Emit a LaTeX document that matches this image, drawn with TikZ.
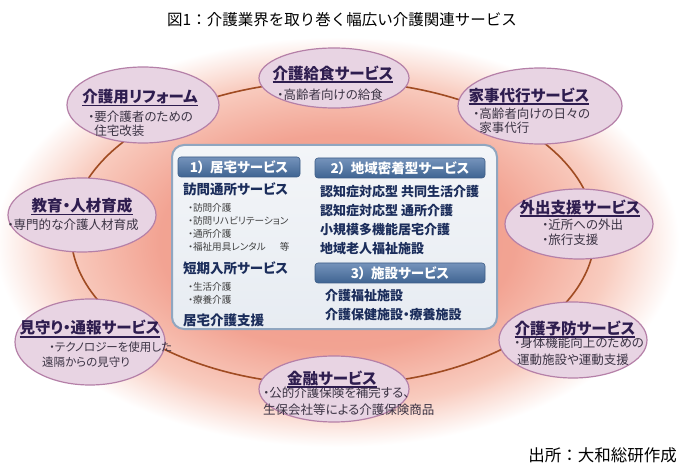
\documentclass[tikz,border=0pt]{standalone}
\usepackage{fontspec}
\setmainfont{Noto Sans CJK JP}[RawFeature=+palt]
\newfontfamily\plainjp{Noto Sans CJK JP}
\usetikzlibrary{shapes.geometric}
\definecolor{ttlc}{HTML}{2E1D4F}
\definecolor{bodyc}{HTML}{3B3344}
\definecolor{navyc}{HTML}{1B2D5B}
\definecolor{grayc}{HTML}{404040}
\definecolor{bubfill}{HTML}{E8D4E3}
\definecolor{bubline}{HTML}{B580A8}
\definecolor{ringc}{HTML}{A04B22}
\definecolor{boxfillA}{HTML}{F3F5F8}
\definecolor{boxfillB}{HTML}{E7ECF2}
\definecolor{boxline}{HTML}{90A6C0}
\definecolor{barA}{HTML}{7593BB}
\definecolor{barB}{HTML}{3F6492}
\definecolor{barline}{HTML}{3D5D86}
\pgfdeclareradialshading{bgrad}{\pgfpoint{0bp}{0bp}}{rgb(0bp)=(0.94,0.60,0.54); rgb(13bp)=(0.95,0.64,0.575); rgb(20bp)=(0.975,0.80,0.75); rgb(25bp)=(1,1,1); rgb(50bp)=(1,1,1)}
\begin{document}
\begin{tikzpicture}[x=1pt,y=-1pt,
  bubble/.style={ellipse, draw=bubline, fill=bubfill, line width=1.2pt, inner sep=0pt},
  bubtitle/.style={font=\fontsize{15.5}{17}\selectfont\bfseries, text=ttlc, inner sep=0pt},
  bubbody/.style={font=\fontsize{12.5}{14}\selectfont, text=bodyc, inner sep=0pt, align=left},
  ulline/.style={draw=ttlc, line width=1.1pt},
  ringline/.style={draw=ringc, line width=1.6pt},
  centerbox/.style={draw=boxline, line width=2pt, rounded corners=12pt, top color=boxfillA, bottom color=boxfillB, inner sep=0pt},
  hbar/.style={draw=barline, line width=0.6pt, rounded corners=3pt, top color=barA, bottom color=barB, inner sep=0pt, text=white, font=\fontsize{13.5}{15}\selectfont\bfseries},
  itemtext/.style={font=\fontsize{13.5}{19}\selectfont\bfseries, text=navyc, inner sep=0pt, align=left, anchor=west},
  subtext/.style={font=\fontsize{9.6}{13}\selectfont, text=grayc, inner sep=0pt, align=left, anchor=west}
]
\useasboundingbox (0,0) rectangle (683,473);
\fill[white] (0,0) rectangle (683,473);
% background glow
\shade[shading=bgrad] (337,242) ellipse [x radius=342pt, y radius=205pt];
% ring
\draw[ringline] (333,233) ellipse [x radius=262pt, y radius=152pt];

% title
\node[inner sep=0pt, font=\plainjp\fontsize{15.5}{18}\selectfont] (title) at (342,20) {図1：介護業界を取り巻く幅広い介護関連サービス};

% bubbles
\node[bubble, minimum width=152pt, minimum height=76pt] (reform) at (143,105) {};
\node[bubtitle] (reformT) at (140,97) {介護用リフォーム};
\node[bubbody, anchor=west] (reformB) at (88,124) {・要介護者のための\\\phantom{・}住宅改装};

\node[bubble, minimum width=150pt, minimum height=60pt] (meal) at (334,78) {};
\node[bubtitle] (mealT) at (333,73) {介護給食サービス};
\node[bubbody] (mealB) at (330,95) {・高齢者向けの給食};

\node[bubble, minimum width=164pt, minimum height=76pt] (kaji) at (540,106) {};
\node[bubtitle] (kajiT) at (529,95) {家事代行サービス};
\node[bubbody, anchor=west] (kajiB) at (473,121) {・高齢者向けの日々の\\\phantom{・}家事代行};

\node[bubble, minimum width=148pt, minimum height=74pt] (kyoiku) at (82,215) {};
\node[bubtitle] (kyoikuT) at (82,206) {教育・人材育成};
\node[bubbody] (kyoikuB) at (73,225) {・専門的な介護人材育成};

\node[bubble, minimum width=148pt, minimum height=70pt] (gaishutsu) at (579,224) {};
\node[bubtitle] (gaishutsuT) at (580,207) {外出支援サービス};
\node[bubbody, anchor=west, font=\fontsize{12.5}{15}\selectfont] (gaishutsuB) at (542,232.5) {・近所への外出\\・旅行支援};

\node[bubble, minimum width=150pt, minimum height=86pt] (mimamori) at (90,342) {};
\node[bubtitle] (mimamoriT) at (90,328) {見守り・通報サービス};
\node[bubbody, anchor=west, font=\fontsize{11.5}{15}\selectfont] (mimamoriB) at (42,354.5) {\hspace*{7pt}・テクノロジーを使用した\\遠隔からの見守り};

\node[bubble, minimum width=148pt, minimum height=76pt] (yobo) at (573,340) {};
\node[bubtitle] (yoboT) at (575,328) {介護予防サービス};
\node[bubbody, anchor=west, font=\fontsize{12.5}{17}\selectfont] (yoboB) at (514,351.5) {・身体機能向上のための\\\hspace*{3pt}運動施設や運動支援};

\node[bubble, minimum width=150pt, minimum height=66pt] (kinyu) at (334,389) {};
\node[bubtitle] (kinyuT) at (332,378) {金融サービス};
\node[bubbody, anchor=west, font=\fontsize{12.5}{17}\selectfont] (kinyuB) at (263,401.5) {・公的介護保険を補完する、\\生保会社等による介護保険商品};

% underlines
\foreach \n in {reformT,mealT,kajiT,kyoikuT,gaishutsuT,mimamoriT,yoboT,kinyuT}{
  \draw[ulline] ([yshift=-3pt]\n.base west) -- ([yshift=-3pt]\n.base east);
}

% central box
\node[centerbox, minimum width=325pt, minimum height=184pt] (cbox) at (334.5,237) {};
\node[hbar, minimum width=122pt, minimum height=20pt] (h1) at (239,167) {1）\hspace{0.4em}居宅サービス};
\node[hbar, minimum width=170pt, minimum height=20pt] (h2) at (400,168) {2）\hspace{0.4em}地域密着型サービス};
\node[hbar, minimum width=170pt, minimum height=20pt] (h3) at (400,273) {3）\hspace{0.4em}施設サービス};

\node[itemtext] (hc1) at (183,189) {訪問通所サービス};
\node[subtext] (hc1s) at (188,227.5) {・訪問介護\\・訪問リハビリテーション\\・通所介護\\・福祉用具レンタル\hspace{14pt}等};
\node[itemtext] (hc2) at (183,268) {短期入所サービス};
\node[subtext] (hc2s) at (188,293.5) {・生活介護\\・療養介護};
\node[itemtext] (hc3) at (183,320) {居宅介護支援};

\node[itemtext, font=\fontsize{13}{19}\selectfont\bfseries] (cs) at (320,220.5) {認知症対応型 共同生活介護\\認知症対応型 通所介護\\小規模多機能居宅介護\\地域老人福祉施設};
\node[itemtext, font=\fontsize{13}{19}\selectfont\bfseries] (fs) at (325,305.5) {介護福祉施設\\介護保健施設・療養施設};

% source
\node[inner sep=0pt, anchor=east, font=\plainjp\fontsize{16.5}{18}\selectfont] (src) at (677,455) {出所：大和総研作成};
\end{tikzpicture}
\end{document}
